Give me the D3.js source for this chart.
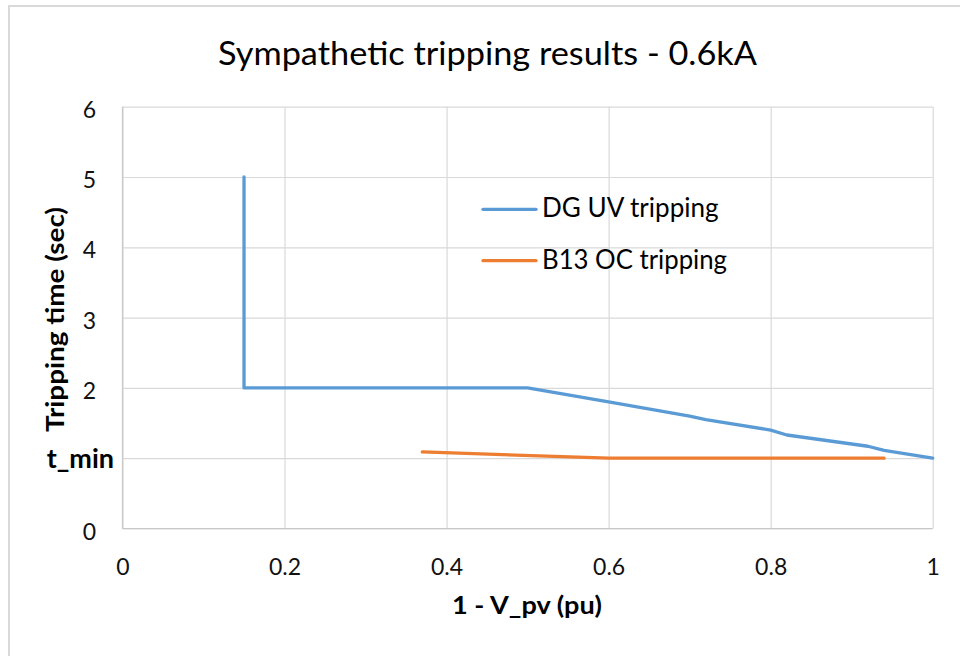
<!DOCTYPE html>
<html>
<head>
<meta charset="utf-8">
<script src="https://cdn.jsdelivr.net/npm/d3@7"></script>
<style>
  html, body { margin: 0; padding: 0; background: #fff; }
  svg { display: block; font-family: Lato, "Open Sans", "Liberation Sans", sans-serif; }
</style>
</head>
<body>
<svg id="chart" width="960" height="656"></svg>
<script>
// Series data: x = 1 - V_pv (pu), y = tripping time (sec)
const dgX  = [0.15, 0.15, 0.5, 0.6, 0.7, 0.72, 0.8, 0.82, 0.92, 0.94, 1.0];
const dgY  = [5.0, 2.0, 2.0, 1.8, 1.6, 1.55, 1.4, 1.33, 1.17, 1.11, 1.0];
const ocX  = [0.37, 0.6, 0.94];
const ocY  = [1.09, 1.0, 1.0];

const seriesNames = ["DG UV tripping", "B13 OC tripping"];
const seriesColors = ["#5B9BD5", "#ED7D31"];

const xTicks = [0, 0.2, 0.4, 0.6, 0.8, 1];
const xTickLabels = ["0", "0.2", "0.4", "0.6", "0.8", "1"];
const yTicks = [0, 1, 2, 3, 4, 5, 6];
const yTickLabels = ["0", "t_min", "2", "3", "4", "5", "6"];

const svg = d3.select("#chart");

// Outer chart frame
svg.append("rect")
  .attr("x", 9).attr("y", 6)
  .attr("width", 1000).attr("height", 700)
  .attr("fill", "#fff")
  .attr("stroke", "#d9d9d9")
  .attr("stroke-width", 2);

const plotL = 122.5, plotR = 932.7, plotT = 106.7, plotB = 528.5;
const x = d3.scaleLinear().domain([0, 1]).range([plotL, plotR]);
const y = d3.scaleLinear().domain([0, 6]).range([plotB, plotT]);

// Gridlines
svg.append("g")
  .attr("transform", `translate(0,${plotB})`)
  .call(d3.axisBottom(x).tickValues(xTicks).tickSize(-(plotB - plotT)).tickFormat(""))
  .call(g => g.select(".domain").remove())
  .call(g => g.selectAll("line").attr("stroke", "#d9d9d9").attr("stroke-width", 1.2));

svg.append("g")
  .attr("transform", `translate(${plotL},0)`)
  .call(d3.axisLeft(y).tickValues(yTicks).tickSize(-(plotR - plotL)).tickFormat(""))
  .call(g => g.select(".domain").remove())
  .call(g => g.selectAll("line").attr("stroke", "#d9d9d9").attr("stroke-width", 1.2));

// Axis lines
svg.append("line")
  .attr("x1", plotL).attr("x2", plotL).attr("y1", plotT).attr("y2", plotB)
  .attr("stroke", "#c8c8c8").attr("stroke-width", 1.2);
svg.append("line")
  .attr("x1", plotL).attr("x2", plotR).attr("y1", plotB).attr("y2", plotB)
  .attr("stroke", "#c8c8c8").attr("stroke-width", 1.2);

// X tick labels
svg.append("g")
  .attr("transform", `translate(0,${plotB})`)
  .call(d3.axisBottom(x).tickValues(xTicks).tickSize(0)
        .tickFormat((d, i) => xTickLabels[i]))
  .call(g => g.select(".domain").remove())
  .call(g => g.selectAll("text")
      .attr("y", 46).attr("dy", 0)
      .attr("fill", "#111")
      .style("font-size", "23px")
      .style("font-family", "Lato, sans-serif"));

// Y tick labels
svg.append("g")
  .attr("transform", `translate(${plotL},0)`)
  .call(d3.axisLeft(y).tickValues(yTicks).tickSize(0)
        .tickFormat((d, i) => yTickLabels[i]))
  .call(g => g.select(".domain").remove())
  .call(g => g.selectAll("text")
      .attr("x", -26.5).attr("dy", 10.5)
      .attr("fill", "#111")
      .style("font-size", "23px")
      .style("font-family", "Lato, sans-serif"))
  .call(g => g.selectAll(".tick")
      .filter(d => d === 1)
      .select("text")
      .attr("x", -8.5).attr("dy", 9.5)
      .attr("fill", "#000")
      .style("font-weight", "bold")
      .style("font-size", "27px"));

// Series lines
const line = d3.line().x(d => x(d[0])).y(d => y(d[1]));
const series = [
  dgX.map((v, i) => [v, dgY[i]]),
  ocX.map((v, i) => [v, ocY[i]])
];
series.forEach((pts, i) => {
  svg.append("path")
    .datum(pts)
    .attr("d", line)
    .attr("fill", "none")
    .attr("stroke", seriesColors[i])
    .attr("stroke-width", 3.3)
    .attr("stroke-linejoin", "round")
    .attr("stroke-linecap", "round");
});

// Legend
const legendY = [209.3, 260.7];
const legendWidths = [176.6, 185];
seriesNames.forEach((name, i) => {
  svg.append("line")
    .attr("x1", 483).attr("x2", 536)
    .attr("y1", legendY[i]).attr("y2", legendY[i])
    .attr("stroke", seriesColors[i])
    .attr("stroke-width", 3.3)
    .attr("stroke-linecap", "round");
  svg.append("text")
    .attr("x", 542).attr("y", legendY[i] + 8)
    .attr("textLength", legendWidths[i])
    .attr("lengthAdjust", "spacingAndGlyphs")
    .style("font-size", "26px")
    .attr("fill", "#000")
    .text(name);
});

// Chart title
svg.append("text")
  .attr("x", 487.5).attr("y", 65)
  .attr("text-anchor", "middle")
  .attr("textLength", 539)
  .attr("lengthAdjust", "spacingAndGlyphs")
  .style("font-size", "33px")
  .attr("fill", "#000")
  .text("Sympathetic tripping results - 0.6kA");

// Axis titles
svg.append("text")
  .attr("x", 527).attr("y", 614)
  .attr("text-anchor", "middle")
  .attr("textLength", 150)
  .attr("lengthAdjust", "spacingAndGlyphs")
  .style("font-size", "25px")
  .style("font-weight", "bold")
  .attr("fill", "#000")
  .text("1 - V_pv (pu)");

svg.append("text")
  .attr("transform", "translate(64,319.5) rotate(-90)")
  .attr("text-anchor", "middle")
  .attr("textLength", 225)
  .attr("lengthAdjust", "spacingAndGlyphs")
  .style("font-size", "25px")
  .style("font-weight", "bold")
  .attr("fill", "#000")
  .text("Tripping time (sec)");
</script>
</body>
</html>
